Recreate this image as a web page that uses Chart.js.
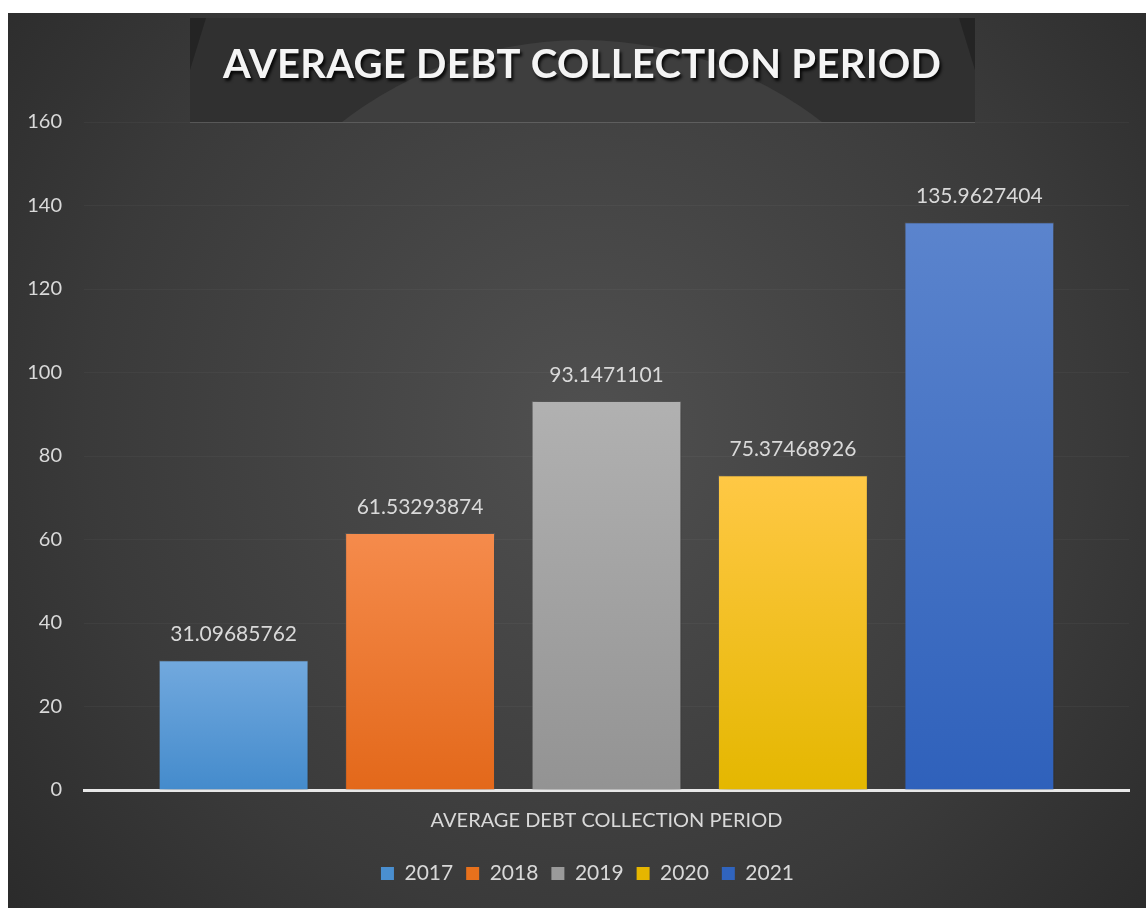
<!DOCTYPE html>
<html lang="en">
<head>
    <meta charset="UTF-8">
    <title>Average Debt Collection Period</title>
    <script src="https://cdn.jsdelivr.net/npm/chart.js"></script>
    <style>
        body { margin: 0; background: #ffffff; }
        .chart-box { position: absolute; left: 8px; top: 13px; width: 1138px; height: 895px; }
    </style>
</head>
<body>
<div class="chart-box">
    <canvas id="debtChart" width="1138" height="895"></canvas>
</div>
<script>
const chartTitle = 'AVERAGE DEBT COLLECTION PERIOD';
const categories = ['AVERAGE DEBT COLLECTION PERIOD'];
const years = ['2017', '2018', '2019', '2020', '2021'];
const periodValues = [31.09685762, 61.53293874, 93.1471101, 75.37468926, 135.9627404];
const yTicks = { min: 0, max: 160, step: 20 };

// top / bottom gradient colours per year, plus the flat legend swatch
const barTop = ['#72a9de', '#f58b4c', '#b1b1b1', '#ffc845', '#5b84cd'];
const barBottom = ['#448bcc', '#e3681a', '#939393', '#e4b700', '#2f61bb'];
const swatch = ['#4a8fd0', '#e8711c', '#9a9a9a', '#e6b600', '#3064be'];

const FONT = 'Lato, "Open Sans", sans-serif';
const TEXT = '#d9d9d9';

function barFill(i) {
    return function (ctx) {
        const chart = ctx.chart;
        const y = chart.scales.y;
        if (!chart.chartArea || !y) return swatch[i];
        const top = y.getPixelForValue(periodValues[i]);
        const bottom = y.getPixelForValue(0);
        const g = chart.ctx.createLinearGradient(0, top, 0, bottom);
        g.addColorStop(0, barTop[i]);
        g.addColorStop(1, barBottom[i]);
        return g;
    };
}

const backdrop = {
    id: 'backdrop',
    afterLayout(chart) {
        // the legend sits a little right of centre in the original
        chart.legend.left += 19;
        chart.legend.right += 19;
    },
    beforeDraw(chart) {
        const c = chart.ctx, w = chart.width, h = chart.height;
        c.save();
        const bg = c.createRadialGradient(w * 0.51, h * 0.46, 20, w * 0.51, h * 0.46, w * 0.72);
        bg.addColorStop(0, '#4f4f4f');
        bg.addColorStop(0.6, '#3a3a3a');
        bg.addColorStop(1, '#272727');
        c.fillStyle = bg;
        c.fillRect(0, 0, w, h);

        // title banner
        const bx = 182, by = 5, bw = 785, bh = 104;
        c.fillStyle = '#303030';
        c.fillRect(bx, by, bw, bh);
        c.beginPath();
        c.rect(bx, by, bw, bh);
        c.clip();
        c.fillStyle = '#3e3e3e';
        c.beginPath();
        c.arc(574, 419, 392, 0, Math.PI * 2);
        c.fill();
        c.fillStyle = '#242424';
        c.beginPath();
        c.moveTo(bx, by); c.lineTo(bx + 16, by); c.lineTo(bx, by + 52); c.closePath();
        c.moveTo(bx + bw, by); c.lineTo(bx + bw - 16, by); c.lineTo(bx + bw, by + 52); c.closePath();
        c.fill();
        c.restore();
        c.save();
        c.strokeStyle = 'rgba(255,255,255,0.12)';
        c.lineWidth = 1;
        c.beginPath();
        c.moveTo(bx, by + bh + 0.5); c.lineTo(bx + bw, by + bh + 0.5);
        c.stroke();
        c.restore();
    },
    afterDraw(chart) {
        const c = chart.ctx;
        c.save();
        c.font = 'bold 40px ' + FONT;
        c.textAlign = 'center';
        c.textBaseline = 'middle';
        const natural = c.measureText(chartTitle).width;
        const spacing = Math.max(0, (718 - natural) / (chartTitle.length - 1));
        c.letterSpacing = spacing.toFixed(1) + 'px';
        c.shadowColor = 'rgba(0,0,0,0.85)';
        c.shadowOffsetX = 2;
        c.shadowOffsetY = 3;
        c.shadowBlur = 3;
        c.fillStyle = '#f4f4f4';
        c.fillText(chartTitle, 574 + spacing / 2, 52);
        c.restore();
    }
};

const barShadow = {
    id: 'barShadow',
    beforeDatasetsDraw(chart) {
        const c = chart.ctx;
        c.save();
        c.shadowColor = 'rgba(0,0,0,0.45)';
        c.shadowBlur = 12;
        c.shadowOffsetX = 2;
        c.shadowOffsetY = 2;
    },
    afterDatasetsDraw(chart) {
        const c = chart.ctx;
        c.restore();
        c.save();
        c.font = '21px ' + FONT;
        c.fillStyle = TEXT;
        c.textAlign = 'center';
        c.textBaseline = 'middle';
        chart.data.datasets.forEach((ds, i) => {
            const bar = chart.getDatasetMeta(i).data[0];
            c.fillText(String(ds.data[0]), bar.x, bar.y - 26);
        });
        c.restore();
    }
};

const datasets = years.map((yr, i) => ({
    label: yr,
    data: [periodValues[i]],
    backgroundColor: barFill(i),
    borderColor: 'rgba(255,255,255,0.12)',
    borderWidth: 1,
    categoryPercentage: 0.892,
    barPercentage: 0.804
}));

new Chart(document.getElementById('debtChart'), {
    type: 'bar',
    data: { labels: categories, datasets: datasets },
    plugins: [backdrop, barShadow],
    options: {
        responsive: false,
        animation: false,
        layout: { padding: { top: 109, right: 17, bottom: 14, left: 0 } },
        plugins: {
            title: { display: false },
            tooltip: { enabled: false },
            legend: {
                position: 'bottom',
                labels: {
                    color: TEXT,
                    font: { family: FONT, size: 21 },
                    boxWidth: 13,
                    boxHeight: 13,
                    padding: 13,
                    generateLabels(chart) {
                        return years.map((yr, i) => ({
                            text: yr,
                            fillStyle: swatch[i],
                            strokeStyle: swatch[i],
                            lineWidth: 0,
                            fontColor: TEXT,
                            datasetIndex: i
                        }));
                    }
                }
            }
        },
        scales: {
            x: {
                grid: { display: false },
                border: { color: '#e8e8e8', width: 3 },
                ticks: { color: TEXT, font: { family: FONT, size: 20 }, padding: 11 },
                afterFit(axis) { axis.height = 60; }
            },
            y: {
                min: yTicks.min,
                max: yTicks.max,
                grid: { color: 'rgba(255,255,255,0.035)', drawTicks: false },
                border: { display: false },
                ticks: { stepSize: yTicks.step, color: TEXT, font: { family: FONT, size: 20 }, padding: 22 },
                afterFit(axis) { axis.width = 76; }
            }
        }
    }
});
</script>
</body>
</html>
